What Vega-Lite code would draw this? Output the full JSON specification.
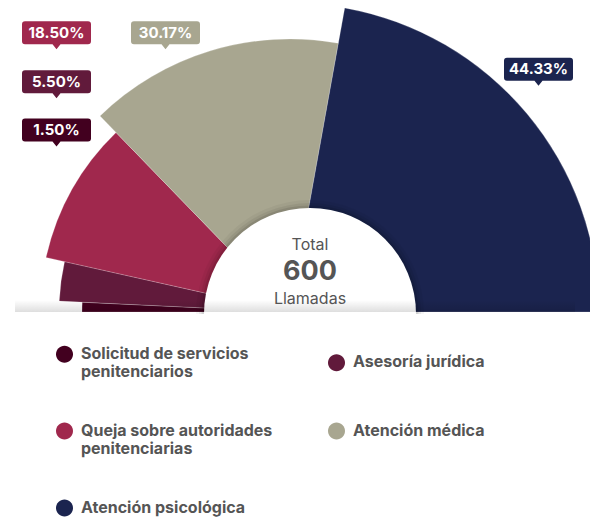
{
  "$schema": "https://vega.github.io/schema/vega-lite/v6.json",
  "width": 590,
  "height": 519,
  "autosize": {"type": "none"},
  "padding": 0,
  "background": "#ffffff",
  "config": {"view": {"stroke": null}, "font": "Inter"},
  "datasets": {
    "llamadas": [
      {"tipo": "Solicitud de servicios penitenciarios", "llamadas": 9, "porcentaje": 0.015},
      {"tipo": "Asesoría jurídica", "llamadas": 33, "porcentaje": 0.055},
      {"tipo": "Queja sobre autoridades penitenciarias", "llamadas": 111, "porcentaje": 0.185},
      {"tipo": "Atención médica", "llamadas": 181, "porcentaje": 0.3017},
      {"tipo": "Atención psicológica", "llamadas": 266, "porcentaje": 0.4433}
    ],
    "centro": [{"elemento": "Total"}]
  },
  "layer": [
    {
      "data": {"name": "llamadas"},
      "mark": {"type": "arc", "x": 290, "y": 312, "stroke": "#ffffff", "strokeWidth": 0.6, "strokeOpacity": 0.35},
      "encoding": {
        "theta": {"field": "llamadas", "type": "quantitative", "stack": true, "scale": {"range": [-1.5708, 1.5708]}},
        "radius": {"field": "llamadas", "type": "quantitative", "scale": {"type": "linear", "domain": [0, 9, 33, 111, 181, 266], "range": [0, 208, 231, 250, 273, 309], "zero": true, "nice": false}},
        "order": {"field": "llamadas", "type": "quantitative", "sort": "ascending"},
        "color": {
          "field": "tipo",
          "type": "nominal",
          "scale": {
            "domain": ["Solicitud de servicios penitenciarios", "Asesoría jurídica", "Queja sobre autoridades penitenciarias", "Atención médica", "Atención psicológica"],
            "range": ["#42001f", "#611a3b", "#a0284d", "#a8a690", "#1b244f"]
          },
          "legend": {
            "orient": "none",
            "direction": "horizontal",
            "legendX": 56,
            "legendY": 337,
            "columns": 2,
            "title": null,
            "padding": 0,
            "symbolType": "M1,1 A1,1,0,1,1,-1,1 A1,1,0,1,1,1,1 Z",
            "symbolSize": 289,
            "symbolStrokeWidth": 0,
            "symbolOpacity": 1,
            "labelFont": "Inter",
            "labelFontSize": 16,
            "labelFontWeight": "bold",
            "labelColor": "#555555",
            "labelLimit": 300,
            "labelOffset": 8,
            "labelLineHeight": 21,
            "labelBaseline": "top",
            "columnPadding": 55,
            "rowPadding": 34,
            "labelExpr": "datum.label == 'Solicitud de servicios penitenciarios' ? ['Solicitud de servicios', 'penitenciarios'] : datum.label == 'Queja sobre autoridades penitenciarias' ? ['Queja sobre autoridades', 'penitenciarias'] : datum.label"
          }
        }
      }
    },
    {
      "data": {"name": "centro"},
      "mark": {"type": "arc", "x": 310, "y": 314, "radius": 114, "theta": -1.5708, "theta2": 1.5708, "color": "#000000", "opacity": 0.04},
      "encoding": {}
    },
    {
      "data": {"name": "centro"},
      "mark": {"type": "arc", "x": 310, "y": 314, "radius": 111, "theta": -1.5708, "theta2": 1.5708, "color": "#000000", "opacity": 0.06},
      "encoding": {}
    },
    {
      "data": {"name": "centro"},
      "mark": {"type": "arc", "x": 310, "y": 314, "radius": 108.5, "theta": -1.5708, "theta2": 1.5708, "color": "#000000", "opacity": 0.09},
      "encoding": {}
    },
    {
      "data": {"name": "centro"},
      "mark": {"type": "arc", "x": 310, "y": 314, "radius": 106, "theta": -1.5708, "theta2": 1.5708, "color": "#ffffff", "opacity": 1},
      "encoding": {}
    },
    {
      "data": {"name": "centro"},
      "mark": {
        "type": "rect", "x": 15, "x2": 575, "y": 300, "y2": 312,
        "color": {"gradient": "linear", "x1": 0, "y1": 0, "x2": 0, "y2": 1, "stops": [{"offset": 0, "color": "rgba(0,0,0,0)"}, {"offset": 1, "color": "rgba(0,0,0,0.13)"}]}
      },
      "encoding": {}
    },
    {
      "data": {"name": "centro"},
      "mark": {"type": "text", "x": 310, "y": 245, "text": "Total", "fontSize": 16, "color": "#555555", "align": "center", "baseline": "middle"},
      "encoding": {}
    },
    {
      "data": {"name": "llamadas"},
      "mark": {"type": "text", "x": 310, "y": 272, "fontSize": 27, "fontWeight": "bold", "color": "#555555", "align": "center", "baseline": "middle"},
      "encoding": {"text": {"aggregate": "sum", "field": "llamadas", "type": "quantitative"}}
    },
    {
      "data": {"name": "centro"},
      "mark": {"type": "text", "x": 310, "y": 299, "text": "Llamadas", "fontSize": 16, "color": "#555555", "align": "center", "baseline": "middle"},
      "encoding": {}
    },
    {
      "data": {"name": "llamadas"},
      "mark": {"type": "point", "shape": "M-0.913,-0.3333 L0.913,-0.3333 Q1,-0.3333 1,-0.2464 L1,0.2464 Q1,0.3333 0.913,0.3333 L0.116,0.3333 L0,0.478 L-0.116,0.3333 L-0.913,0.3333 Q-1,0.3333 -1,0.2464 L-1,-0.2464 Q-1,-0.3333 -0.913,-0.3333 Z", "size": 4761, "filled": true, "opacity": 1, "strokeWidth": 0},
      "encoding": {
        "x": {"field": "llamadas", "type": "quantitative", "axis": null, "scale": {"domain": [9, 33, 111, 181, 266], "range": [56.5, 56.5, 56.5, 165.5, 538.5], "nice": false, "zero": false}},
        "y": {"field": "llamadas", "type": "quantitative", "axis": null, "scale": {"domain": [9, 33, 111, 181, 266], "range": [130, 81.7, 32.7, 32.7, 69.2], "nice": false, "zero": false}},
        "color": {"field": "tipo", "type": "nominal", "legend": null}
      }
    },
    {
      "data": {"name": "llamadas"},
      "mark": {"type": "text", "color": "#ffffff", "fontWeight": "bold", "fontSize": 15, "font": "Inter", "align": "center", "baseline": "middle"},
      "encoding": {
        "x": {"field": "llamadas", "type": "quantitative", "axis": null},
        "y": {"field": "llamadas", "type": "quantitative", "axis": null},
        "text": {"field": "porcentaje", "type": "quantitative", "format": ".2%"}
      }
    }
  ]
}
